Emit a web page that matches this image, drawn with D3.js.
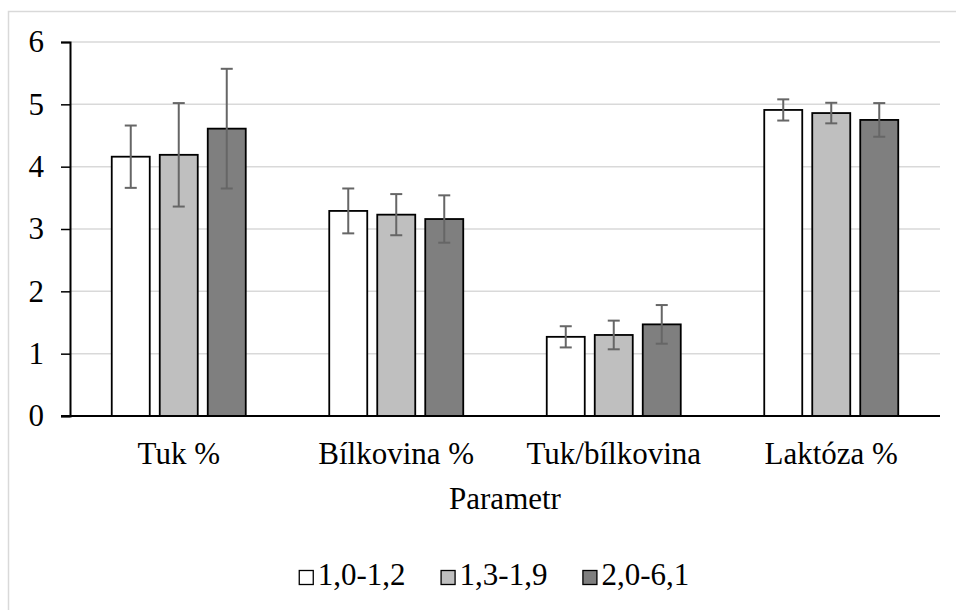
<!DOCTYPE html>
<html>
<head>
<meta charset="utf-8">
<script src="https://cdn.jsdelivr.net/npm/d3@7"></script>
</head>
<body style="margin:0">
<svg id="chart" width="956" height="610"></svg>
<script>
// ---- data ----
const categories = ["Tuk %", "Bílkovina %", "Tuk/bílkovina", "Laktóza %"];
const seriesNames = ["1,0-1,2", "1,3-1,9", "2,0-6,1"];
const seriesColors = ["#ffffff", "#bfbfbf", "#7f7f7f"];
const values1 = [4.16, 3.29, 1.27, 4.91];
const values2 = [4.19, 3.23, 1.30, 4.86];
const values3 = [4.61, 3.16, 1.47, 4.75];
const errors1 = [0.50, 0.36, 0.17, 0.17];
const errors2 = [0.83, 0.33, 0.23, 0.165];
const errors3 = [0.96, 0.38, 0.31, 0.27];
const yTicks = [0, 1, 2, 3, 4, 5, 6];
const xTitle = "Parametr";

const seriesValues = [values1, values2, values3];
const seriesErrors = [errors1, errors2, errors3];

// ---- layout ----
const FONT = '"Liberation Serif"';
const svg = d3.select("#chart");
const W = 956, H = 610;
const plot = { left: 70, right: 940, top: 42, bottom: 416 };
const fontSize = "31px";

// outer border
svg.append("rect")
  .attr("x", 8.5).attr("y", 11.5)
  .attr("width", W + 10).attr("height", H + 10)
  .attr("fill", "#fff").attr("stroke", "#d9d9d9").attr("stroke-width", 1.5);

const y = d3.scaleLinear().domain([0, 6]).range([plot.bottom, plot.top]);
const x0 = d3.scaleBand().domain(categories).range([plot.left, plot.right]).padding(0);
const groupW = 134;
const x1 = d3.scaleBand().domain(seriesNames).range([0, groupW]).paddingInner(10 / 48).paddingOuter(0);

// gridlines
svg.append("g")
  .selectAll("line")
  .data(yTicks.filter(d => d > 0))
  .join("line")
  .attr("x1", plot.left).attr("x2", plot.right)
  .attr("y1", d => y(d)).attr("y2", d => y(d))
  .attr("stroke", "#d9d9d9").attr("stroke-width", 1.5);

// y axis
const yAxis = d3.axisLeft(y).tickValues(yTicks).tickSize(9).tickPadding(17).tickFormat(d3.format("d"));
const gy = svg.append("g").attr("transform", `translate(${plot.left},0)`).call(yAxis);
gy.attr("font-family", null).attr("font-size", null);
gy.select(".domain").attr("stroke", "#000").attr("stroke-width", 2);
gy.selectAll(".tick line").attr("stroke", "#000").attr("stroke-width", 1.5);
gy.selectAll(".tick text")
  .style("font-family", FONT)
  .style("font-size", fontSize).attr("fill", "#000");

// bars
const data = [];
categories.forEach((c, i) => {
  seriesNames.forEach((s, j) => {
    data.push({ cat: c, ser: s, v: seriesValues[j][i], e: seriesErrors[j][i], color: seriesColors[j] });
  });
});

const gx = c => x0(c) + (x0.bandwidth() - groupW) / 2;

svg.append("g")
  .selectAll("rect")
  .data(data)
  .join("rect")
  .attr("x", d => gx(d.cat) + x1(d.ser))
  .attr("y", d => y(d.v))
  .attr("width", x1.bandwidth())
  .attr("height", d => y(0) - y(d.v))
  .attr("fill", d => d.color)
  .attr("stroke", "#000").attr("stroke-width", 1.8);

// x axis baseline
svg.append("line")
  .attr("x1", plot.left - 9).attr("x2", plot.right)
  .attr("y1", y(0)).attr("y2", y(0))
  .attr("stroke", "#000").attr("stroke-width", 2);

// error bars
const eg = svg.append("g").attr("stroke", "#666666").attr("stroke-width", 2);
const capW = 12;
data.forEach(d => {
  const cx = gx(d.cat) + x1(d.ser) + x1.bandwidth() / 2;
  eg.append("line").attr("x1", cx).attr("x2", cx).attr("y1", y(d.v + d.e)).attr("y2", y(d.v - d.e));
  eg.append("line").attr("x1", cx - capW / 2).attr("x2", cx + capW / 2).attr("y1", y(d.v + d.e)).attr("y2", y(d.v + d.e));
  eg.append("line").attr("x1", cx - capW / 2).attr("x2", cx + capW / 2).attr("y1", y(d.v - d.e)).attr("y2", y(d.v - d.e));
});

// category labels
svg.append("g")
  .selectAll("text")
  .data(categories)
  .join("text")
  .attr("x", d => x0(d) + x0.bandwidth() / 2)
  .attr("y", 464)
  .attr("text-anchor", "middle")
  .style("font-family", FONT)
  .style("font-size", fontSize)
  .text(d => d);

// axis title
svg.append("text")
  .attr("x", (plot.left + plot.right) / 2)
  .attr("y", 509)
  .attr("text-anchor", "middle")
  .style("font-family", FONT)
  .style("font-size", fontSize)
  .text(xTitle);

// legend
const lg = svg.append("g");
let cur = 0;
seriesNames.forEach((s, j) => {
  const g = lg.append("g");
  g.append("rect").attr("x", 0.5).attr("y", 570.5).attr("width", 14).attr("height", 14)
    .attr("fill", seriesColors[j]).attr("stroke", "#000").attr("stroke-width", 1.3);
  const t = g.append("text").attr("x", 19).attr("y", 584.5)
    .style("font-family", FONT)
    .style("font-size", fontSize).text(s);
  const tw = t.node().getComputedTextLength();
  g.attr("transform", `translate(${cur},0)`);
  cur += 19 + tw + 35;
});
const legendW = cur - 35;
lg.attr("transform", `translate(${494 - legendW / 2},0)`);
</script>
</body>
</html>
